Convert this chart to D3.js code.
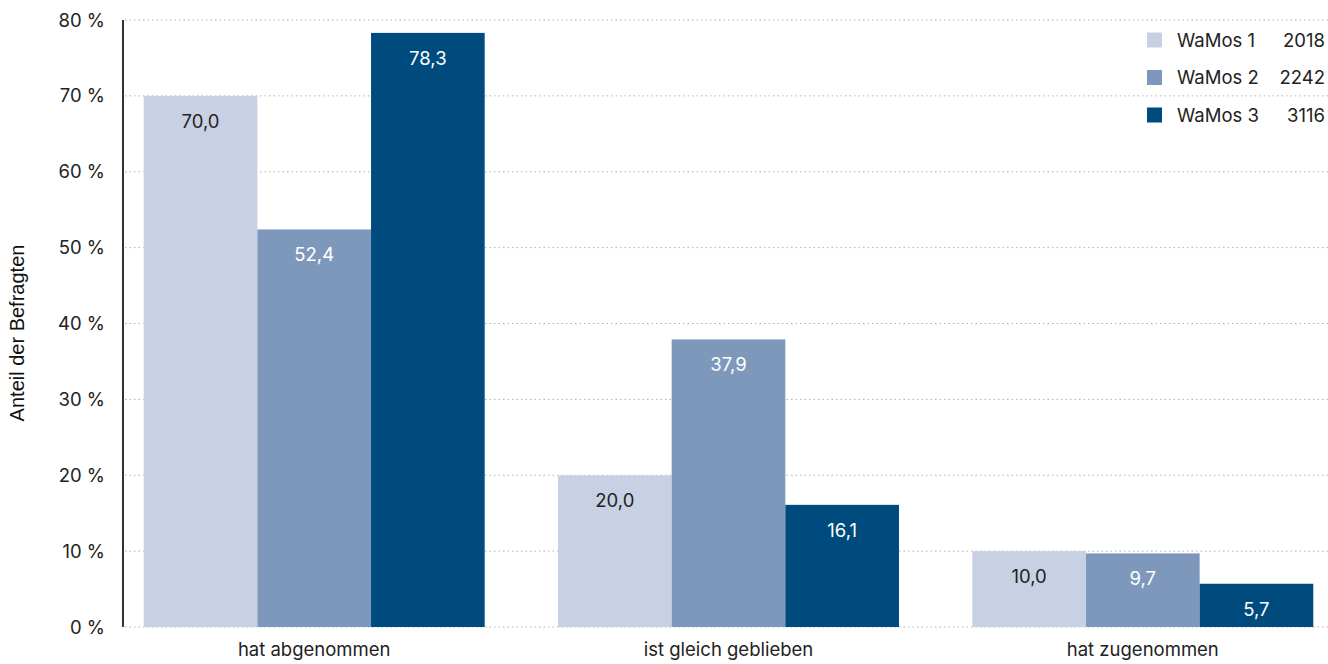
<!DOCTYPE html>
<html><head><meta charset="utf-8">
<script src="https://cdn.jsdelivr.net/npm/d3@7"></script>
<style>
body{margin:0;background:#fff;}
.main{font-family:Inter, "Noto Sans", sans-serif;}
</style></head>
<body><svg id="c" width="1328" height="664"></svg>
<script>
const categories = ["hat abgenommen", "ist gleich geblieben", "hat zugenommen"];
const seriesNames = ["WaMos 1", "WaMos 2", "WaMos 3"];
const seriesN = ["2018", "2242", "3116"];
const wamos1 = [70.0, 20.0, 10.0];
const wamos2 = [52.4, 37.9, 9.7];
const wamos3 = [78.3, 16.1, 5.7];
const yTicks = [0, 10, 20, 30, 40, 50, 60, 70, 80];
const colors = ["#c8d1e3", "#7e98bc", "#004b7d"];
const labelColors = ["#222222", "#ffffff", "#ffffff"];

const FS = 18.5;
const series = [wamos1, wamos2, wamos3];
const svg = d3.select("#c");
const x0 = d3.scaleBand().domain(categories).range([123, 1334]).paddingInner(0.177).paddingOuter(0.05);
const x1 = d3.scaleBand().domain(seriesNames).range([0, x0.bandwidth()]);
const y = d3.scaleLinear().domain([0, 80]).range([627, 20]);

// grid
svg.append("g").selectAll("line").data(yTicks).join("line")
  .attr("x1", 125).attr("x2", 1328)
  .attr("y1", d => y(d)).attr("y2", d => y(d))
  .attr("stroke", "#b0b0b0").attr("stroke-width", 1).attr("stroke-dasharray", "1.5,3");

// bars
const groups = svg.append("g").attr("class", "main").selectAll("g").data(categories).join("g")
  .attr("transform", d => `translate(${x0(d)},0)`);
groups.each(function(cat, ci) {
  const g = d3.select(this);
  seriesNames.forEach((s, si) => {
    const v = series[si][ci];
    g.append("rect").attr("x", x1(s)).attr("width", x1.bandwidth())
      .attr("y", y(v)).attr("height", y(0) - y(v)).attr("fill", colors[si]);
    g.append("text").attr("x", x1(s) + x1.bandwidth() / 2).attr("y", y(v) + 32)
      .attr("text-anchor", "middle").attr("font-size", FS).attr("fill", labelColors[si])
      .text(d3.format(".1f")(v).replace(".", ","));
  });
});

// y axis line
svg.append("line").attr("x1", 123).attr("x2", 123).attr("y1", y(80)).attr("y2", y(0))
  .attr("stroke", "#333").attr("stroke-width", 2);

// y tick labels
svg.append("g").attr("class", "main").selectAll("text").data(yTicks).join("text")
  .attr("x", 105).attr("y", d => y(d) + 6.5).attr("text-anchor", "end")
  .attr("font-size", FS).attr("fill", "#222").text(d => d + " %");

// category labels
svg.append("g").attr("class", "main").selectAll("text").data(categories).join("text")
  .attr("x", d => x0(d) + x0.bandwidth() / 2).attr("y", 656).attr("text-anchor", "middle")
  .attr("font-size", FS).attr("fill", "#222").text(d => d);

// y axis title
svg.append("text").attr("transform", "translate(24,333) rotate(-90)")
  .attr("text-anchor", "middle").attr("font-size", 20)
  .attr("font-family", "'Liberation Sans', Arial, sans-serif").attr("fill", "#111")
  .text("Anteil der Befragten");

// legend
const leg = svg.append("g").attr("class", "main").selectAll("g").data(seriesNames).join("g")
  .attr("transform", (d, i) => `translate(1147,${40 + i * 37.5})`);
leg.append("rect").attr("x", 0).attr("y", -7.5).attr("width", 15).attr("height", 15)
  .attr("fill", (d, i) => colors[i]);
leg.append("text").attr("x", 30).attr("y", 6.5).attr("font-size", FS).attr("fill", "#222").text(d => d);
leg.append("text").attr("x", 178).attr("y", 6.5).attr("text-anchor", "end").attr("font-size", FS)
  .attr("fill", "#222").text((d, i) => seriesN[i]);
</script></body></html>
